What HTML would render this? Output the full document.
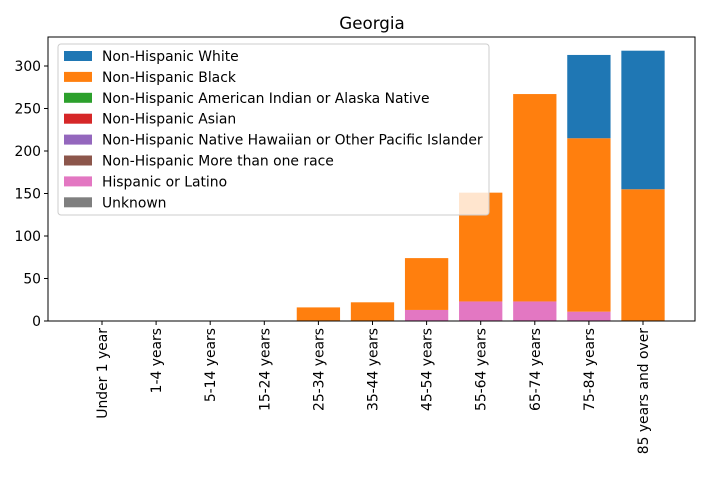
<!DOCTYPE html>
<html><head><meta charset="utf-8"><style>
body{margin:0;background:#fff}
svg text{font-family:"DejaVu Sans","Liberation Sans",sans-serif}
</style></head><body>
<svg id="chart" width="708" height="472" xmlns="http://www.w3.org/2000/svg">
<rect width="708" height="472" fill="#fff"/>
<text x="372" y="29" font-size="16.7" text-anchor="middle">Georgia</text>
<g id="bars"></g>
<g id="axes"></g>
<g id="legend"></g>
</svg>
<script>
const categories=["Under 1 year","1-4 years","5-14 years","15-24 years","25-34 years","35-44 years","45-54 years","55-64 years","65-74 years","75-84 years","85 years and over"];
const hispanic=[0,0,0,0,0,0,13,23,23,11,0];
const black=[0,0,0,0,16,22,61,128,244,204,155];
const white=[0,0,0,0,0,0,0,0,0,98,163];
const yTicks=[0,50,100,150,200,250,300];
const legendLabels=["Non-Hispanic White","Non-Hispanic Black","Non-Hispanic American Indian or Alaska Native","Non-Hispanic Asian","Non-Hispanic Native Hawaiian or Other Pacific Islander","Non-Hispanic More than one race","Hispanic or Latino","Unknown"];
const legendColors=["#1f77b4","#ff7f0e","#2ca02c","#d62728","#9467bd","#8c564b","#e377c2","#7f7f7f"];
const NS="http://www.w3.org/2000/svg";
const L=48,R=695,T=37,B=321;
const y=v=>B-v*0.85;
const x=i=>102+i*54.1;
const bw=43.3;
function mk(tag,attrs,parent){const e=document.createElementNS(NS,tag);for(const k in attrs)e.setAttribute(k,attrs[k]);parent.appendChild(e);return e;}
const gb=document.getElementById('bars');
const series=[[hispanic,"#e377c2","hispanic"],[black,"#ff7f0e","black"],[white,"#1f77b4","white"]];
categories.forEach((c,i)=>{let base=0;series.forEach(([arr,col,nm])=>{const v=arr[i];if(v>0){const r=mk('rect',{x:x(i)-bw/2,y:y(base+v),width:bw,height:y(base)-y(base+v),fill:col},gb);

}base+=v;});});
const ga=document.getElementById('axes');
mk('rect',{x:L,y:T,width:R-L,height:B-T,fill:'none',stroke:'#000','stroke-width':1},ga);
yTicks.forEach(t=>{mk('line',{x1:L-4,x2:L,y1:y(t),y2:y(t),stroke:'#000'},ga);const tx=mk('text',{x:L-7,y:y(t)+5,'font-size':13.9,'text-anchor':'end'},ga);tx.textContent=t;

});
categories.forEach((c,i)=>{mk('line',{x1:x(i),x2:x(i),y1:B,y2:B+4,stroke:'#000'},ga);const tx=mk('text',{x:0,y:0,'font-size':13.9,'text-anchor':'end',transform:`translate(${x(i)+5},${B+7}) rotate(-90)`},ga);tx.textContent=c;

});
const gl=document.getElementById('legend');
mk('rect',{x:58,y:44,width:431,height:171,rx:3,fill:'#fff','fill-opacity':0.8,stroke:'#ccc'},gl);
legendLabels.forEach((lab,i)=>{const yy=56+i*20.9;mk('rect',{x:64,y:yy-5,width:28,height:10,fill:legendColors[i]},gl);const tx=mk('text',{x:102,y:yy+5,'font-size':13.9},gl);tx.textContent=lab;

});
</script>
</body></html>
